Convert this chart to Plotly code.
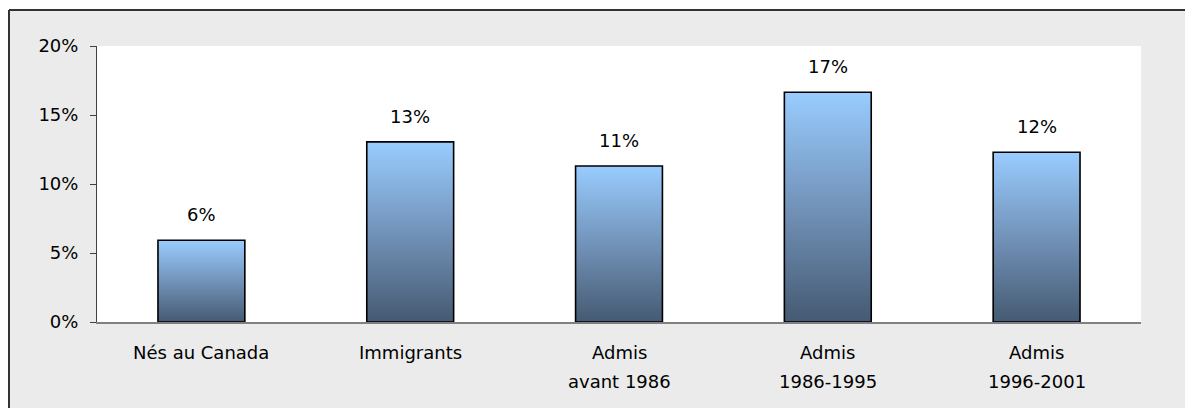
import plotly.graph_objects as go

categories = ["Nés au Canada", "Immigrants", "Admis\navant 1986", "Admis\n1986-1995", "Admis\n1996-2001"]
values = [5.92, 13.05, 11.3, 16.65, 12.3]
value_labels = ["6%", "13%", "11%", "17%", "12%"]

HALF = 0.208
FONT = "DejaVu Sans, Liberation Sans, Arial, sans-serif"
FSIZE = 18

fig = go.Figure()

# one filled polygon per bar so each one gets its own vertical gradient
for i, v in enumerate(values):
    fig.add_trace(go.Scatter(
        x=[i - HALF, i + HALF, i + HALF, i - HALF, i - HALF],
        y=[0, 0, v, v, 0],
        mode="lines", fill="toself",
        line=dict(color="#000000", width=1.6),
        fillgradient=dict(type="vertical", start=0, stop=v,
                          colorscale=[[0, "#455a72"], [0.45, "#6e8db2"], [1, "#99ccff"]]),
        hoverinfo="skip", showlegend=False,
    ))

annotations = []
for i, (v, lab) in enumerate(zip(values, value_labels)):
    annotations.append(dict(x=i, y=v, text=lab, showarrow=False, yanchor="bottom",
                            yshift=13, font=dict(size=FSIZE, color="#000000", family=FONT)))

for i, cat in enumerate(categories):
    for n, line in enumerate(cat.split("\n")):
        annotations.append(dict(x=i, y=0, xref="x", yref="y", text=line, showarrow=False,
                                yanchor="middle", yshift=-30 - 29 * n,
                                font=dict(size=FSIZE, color="#000000", family=FONT)))

# page has an 8px body margin; plot area in figure px: x 89..1133, y 38..314
FX0, FY1 = -0.0843, 1.13
shapes = [
    dict(type="rect", xref="paper", yref="paper", x0=FX0, x1=1.1, y0=-0.4, y1=FY1,
         fillcolor="#ebebeb", line=dict(width=0), layer="below"),
    dict(type="rect", xref="paper", yref="paper", x0=0, x1=1, y0=0, y1=1,
         fillcolor="#ffffff", line=dict(width=0), layer="below"),
    dict(type="line", xref="paper", yref="paper", x0=FX0, x1=1.1, y0=FY1, y1=FY1,
         line=dict(color="#333333", width=2)),
    dict(type="line", xref="paper", yref="paper", x0=FX0, x1=FX0, y0=-0.4, y1=FY1,
         line=dict(color="#333333", width=2)),
]

fig.update_layout(
    width=1177, height=400,
    margin=dict(l=89, r=44, t=38, b=86),
    paper_bgcolor="#ffffff", plot_bgcolor="#ffffff",
    font=dict(family=FONT, size=FSIZE, color="#000000"),
    annotations=annotations, shapes=shapes,
    xaxis=dict(range=[-0.5, 4.5], showticklabels=False, ticks="", showgrid=False,
               zeroline=False, showline=True, linecolor="#808080", linewidth=2, fixedrange=True),
    yaxis=dict(range=[0, 20], tick0=0, dtick=5, ticksuffix="%", ticks="outside", ticklen=6,
               tickcolor="#404040", tickwidth=1, ticklabelstandoff=8, showgrid=False,
               zeroline=False, showline=True, linecolor="#404040", linewidth=1,
               tickfont=dict(size=FSIZE, color="#000000")),
    showlegend=False,
)

fig.write_html("out.html")
